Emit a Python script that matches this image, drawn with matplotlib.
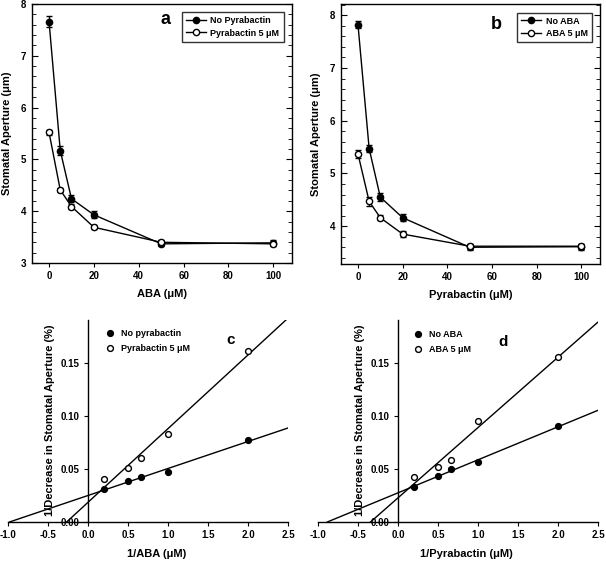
import numpy as np
import matplotlib
matplotlib.use("Agg")
import matplotlib.pyplot as plt
from matplotlib.ticker import MultipleLocator

plt.rcParams["font.family"] = ["Liberation Sans", "DejaVu Sans"]
plt.rcParams["font.weight"] = "bold"
plt.rcParams["axes.labelweight"] = "bold"
plt.rcParams["axes.linewidth"] = 1.0

# ---------- Data: panels a, b (dose response) ----------
conc = [0, 5, 10, 20, 50, 100]

a_no_pyr = [7.66, 5.17, 4.24, 3.93, 3.37, 3.39]
a_no_pyr_err = [0.10, 0.08, 0.07, 0.07, 0.05, 0.05]
a_pyr5 = [5.52, 4.41, 4.09, 3.69, 3.40, 3.37]
a_pyr5_err = [0.05, 0.04, 0.04, 0.04, 0.04, 0.04]

b_no_aba = [7.82, 5.47, 4.55, 4.16, 3.60, 3.61]
b_no_aba_err = [0.07, 0.06, 0.08, 0.07, 0.06, 0.06]
b_aba5 = [5.37, 4.47, 4.16, 3.85, 3.62, 3.62]
b_aba5_err = [0.07, 0.08, 0.05, 0.05, 0.05, 0.05]

# ---------- Data: panels c, d (double reciprocal) ----------
inv_conc = [0.2, 0.5, 0.667, 1.0, 2.0]

c_no_pyr = [0.031, 0.0385, 0.042, 0.047, 0.077]
c_pyr5 = [0.0407, 0.0507, 0.060, 0.0827, 0.161]

d_no_aba = [0.0332, 0.0435, 0.0495, 0.0567, 0.0899]
d_aba5 = [0.042, 0.0517, 0.0585, 0.0952, 0.155]

fig = plt.figure(figsize=(6.06, 5.62), dpi=100)


def dose_panel(rect, yf, yf_err, yo, yo_err, labels, letter, xlabel, ylim, letter_xy, leg_bbox):
    ax = fig.add_axes(rect)
    ax.errorbar(conc, yf, yerr=yf_err, color="black", marker="o", ms=4.5, mfc="black",
                mec="black", lw=1, capsize=2.5, elinewidth=1, label=labels[0], zorder=3)
    ax.errorbar(conc, yo, yerr=yo_err, color="black", marker="o", ms=4.5, mfc="white",
                mec="black", lw=1, capsize=2.5, elinewidth=1, label=labels[1], zorder=4)
    ax.set_xlim(-7.6, 108.3)
    ax.set_ylim(*ylim)
    ax.xaxis.set_major_locator(MultipleLocator(20))
    ax.yaxis.set_major_locator(MultipleLocator(1))
    ax.yaxis.set_minor_locator(MultipleLocator(0.2))
    ax.tick_params(axis="y", which="both", direction="in", right=True, labelsize=7, pad=4)
    ax.tick_params(axis="y", which="major", length=4)
    ax.tick_params(axis="y", which="minor", length=3)
    ax.tick_params(axis="x", direction="out", length=3, labelsize=7, pad=3)
    ax.set_xlabel(xlabel, fontsize=8)
    ax.set_ylabel("Stomatal Aperture (\u03bcm)", fontsize=8)
    ax.xaxis.set_label_coords(0.5, -0.10)
    ax.yaxis.set_label_coords(-0.078, 0.5)
    ax.text(*letter_xy, letter, transform=ax.transAxes, fontsize=13, ha="center", va="center")
    h, l = ax.get_legend_handles_labels()
    h = [hh[0] for hh in h]
    leg = ax.legend(h, l, loc="upper right", bbox_to_anchor=leg_bbox, fontsize=6.5,
                    frameon=True, fancybox=False, edgecolor="black", handlelength=2.2,
                    borderpad=0.45, labelspacing=0.35, handletextpad=0.5)
    leg.get_frame().set_linewidth(1.0)
    return ax


def recip_panel(rect, yf, yo, labels, letter, xlabel, leg_xy, letter_xy):
    ax = fig.add_axes(rect)
    for y, face in [(yf, "black"), (yo, "white")]:
        slope, icpt = np.polyfit(inv_conc, y, 1)
        x0 = -icpt / slope
        xs = np.array([x0, 2.5])
        ax.plot(xs, slope * xs + icpt, color="black", lw=1, zorder=2)
    ax.plot(inv_conc, yf, "o", ms=4.2, mfc="black", mec="black", zorder=3)
    ax.plot(inv_conc, yo, "o", ms=4.2, mfc="white", mec="black", zorder=3)
    ax.set_xlim(-1.0, 2.5)
    ax.set_ylim(0, 0.19)
    ax.spines["left"].set_position(("data", 0))
    ax.spines["top"].set_visible(False)
    ax.spines["right"].set_visible(False)
    ax.xaxis.set_major_locator(MultipleLocator(0.5))
    ax.yaxis.set_major_locator(MultipleLocator(0.05))
    ax.xaxis.set_major_formatter(plt.FormatStrFormatter("%.1f"))
    ax.yaxis.set_major_formatter(plt.FormatStrFormatter("%.2f"))
    ax.tick_params(axis="both", direction="out", length=3, labelsize=7, pad=3)
    ax.set_xlabel(xlabel, fontsize=8)
    ax.set_ylabel("1/Decrease in Stomatal Aperture (%)", fontsize=8)
    ax.xaxis.set_label_coords(0.53, -0.135)
    ax.yaxis.set_label_coords(0.168, 0.505)
    # marker-only legend
    lx, ly = leg_xy
    ax.plot([lx], [ly], "o", ms=4.2, mfc="black", mec="black", transform=ax.transAxes, clip_on=False)
    ax.plot([lx], [ly - 0.075], "o", ms=4.2, mfc="white", mec="black", transform=ax.transAxes, clip_on=False)
    ax.text(lx + 0.04, ly, labels[0], transform=ax.transAxes, fontsize=6.5, va="center")
    ax.text(lx + 0.04, ly - 0.075, labels[1], transform=ax.transAxes, fontsize=6.5, va="center")
    ax.text(*letter_xy, letter, transform=ax.transAxes, fontsize=11, ha="center", va="center")
    return ax


dose_panel([0.0528, 0.532, 0.429, 0.461], a_no_pyr, a_no_pyr_err, a_pyr5, a_pyr5_err,
           ["No Pyrabactin", "Pyrabactin 5 \u03bcM"], "a", "ABA (\u03bcM)", (3, 8),
           (0.515, 0.94), (0.985, 0.985))
dose_panel([0.5627, 0.530, 0.4274, 0.4626], b_no_aba, b_no_aba_err, b_aba5, b_aba5_err,
           ["No ABA", "ABA 5 \u03bcM"], "b", "Pyrabactin (\u03bcM)", (3.28, 8.21),
           (0.60, 0.92), (0.985, 0.985))

recip_panel([0.0132, 0.0712, 0.462, 0.3594], c_no_pyr, c_pyr5,
            ["No pyrabactin", "Pyrabactin 5 \u03bcM"], "c", "1/ABA (\u03bcM)",
            (0.365, 0.935), (0.795, 0.90))
recip_panel([0.5248, 0.0712, 0.462, 0.3594], d_no_aba, d_aba5,
            ["No ABA", "ABA 5 \u03bcM"], "d", "1/Pyrabactin (\u03bcM)",
            (0.357, 0.93), (0.66, 0.89))

fig.savefig("out.png", dpi=100)
